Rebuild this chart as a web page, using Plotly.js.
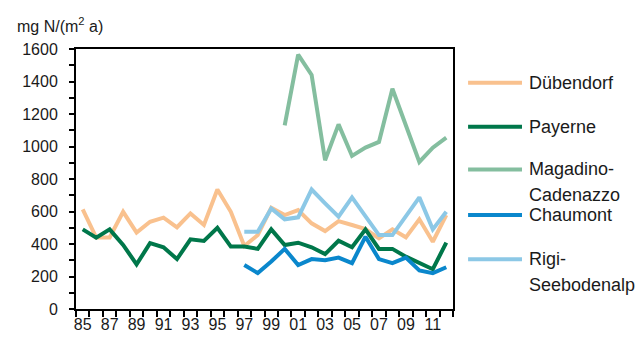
<!DOCTYPE html>
<html>
<head>
<meta charset="utf-8">
<script src="https://cdn.plot.ly/plotly-3.0.1.min.js"></script>
<style>html,body{margin:0;padding:0;background:#fff;}#chart{width:643px;height:341px;}</style>
</head>
<body>
<div id="chart"></div>
<script>
var years = [1985,1986,1987,1988,1989,1990,1991,1992,1993,1994,1995,1996,1997,1998,1999,2000,2001,2002,2003,2004,2005,2006,2007,2008,2009,2010,2011,2012];
var tickYears = [1985,1987,1989,1991,1993,1995,1997,1999,2001,2003,2005,2007,2009,2011];
var tickLabels = ['85','87','89','91','93','95','97','99','01','03','05','07','09','11'];

var seriesNames = ['Dübendorf','Payerne','Magadino-<br>Cadenazzo','Chaumont','Rigi-<br>Seebodenalp'];

var duebendorf = [613,440,440,598,470,537,562,503,588,517,735,598,388,455,623,578,609,527,480,541,517,492,435,490,441,552,414,578];
var payerne    = [490,439,490,394,275,405,380,307,429,419,500,384,384,370,490,394,408,380,338,420,380,490,370,370,322,282,245,408];
var magadino   = [null,null,null,null,null,null,null,null,null,null,null,null,null,null,null,1130,1565,1440,915,1136,942,993,1028,1355,1130,905,993,1054];
var chaumont   = [null,null,null,null,null,null,null,null,null,null,null,null,271,221,292,370,271,307,300,316,282,445,307,282,316,237,221,257];
var rigi       = [null,null,null,null,null,null,null,null,null,null,null,null,476,476,619,552,564,735,650,568,687,568,455,455,568,687,490,598];

var colors = ['#F9C18E','#00774A','#84BE9F','#0A87CC','#8CC8E6'];
var allSeries = [duebendorf, payerne, magadino, chaumont, rigi];

var traces = allSeries.map(function(s, i){
  return {x: years, y: s, type:'scatter', mode:'lines', name: seriesNames[i],
          line:{color: colors[i], width:4}, connectgaps:false, showlegend:false, hoverinfo:'skip'};
});

var FONT = 'Liberation Sans, Arial, sans-serif';
var TXT = '#1a1a1a';

// manual legend
var legendY = [0.870, 0.701, 0.537, 0.3615, 0.191];
var shapes = [];
var annotations = [];
seriesNames.forEach(function(n, i){
  shapes.push({type:'line', xref:'paper', yref:'paper', x0:1.040, x1:1.183, y0:legendY[i], y1:legendY[i],
               line:{color: colors[i], width:4}});
  var parts = n.split('<br>');
  parts.forEach(function(p, k){
    annotations.push({xref:'paper', yref:'paper', x:1.196, y:legendY[i] - k*0.097, xanchor:'left', yanchor:'middle',
      text:p, showarrow:false, font:{family:FONT, size:18, color:TXT}});
  });
});
annotations.push({xref:'paper', yref:'paper', x:-0.162, y:1.092, xanchor:'left', yanchor:'middle',
  text:'mg N/(m<sup>2</sup> a)', showarrow:false, font:{family:FONT, size:16, color:TXT}});

var layout = {
  width:643, height:341,
  margin:{l:76, r:190, t:49, b:32},
  paper_bgcolor:'#fff', plot_bgcolor:'#fff',
  showlegend:false,
  font:{family:FONT, size:16, color:TXT},
  xaxis:{
    range:[1984.5, 2012.5], showgrid:false, zeroline:false,
    showline:true, linecolor:'#000', linewidth:2, mirror:true,
    tickmode:'array', tickvals:tickYears, ticktext:tickLabels, ticks:'',
    tickfont:{family:FONT, size:16, color:TXT},
    minor:{tickmode:'linear', tick0:1984.5, dtick:1, ticks:'outside', ticklen:6, tickwidth:2, tickcolor:'#000', showgrid:false}
  },
  yaxis:{
    range:[0,1600], showgrid:false, zeroline:false,
    showline:true, linecolor:'#000', linewidth:2, mirror:true,
    tickmode:'linear', tick0:0, dtick:200, ticks:'outside', ticklen:5, tickwidth:2, tickcolor:'#000',
    ticklabelstandoff:8,
    tickfont:{family:FONT, size:16, color:TXT},
    minor:{tickmode:'linear', tick0:0, dtick:100, ticks:'outside', ticklen:5, tickwidth:2, tickcolor:'#000', showgrid:false}
  },
  shapes:shapes,
  annotations:annotations
};

Plotly.newPlot('chart', traces, layout, {staticPlot:true, displayModeBar:false});
</script>
</body>
</html>
